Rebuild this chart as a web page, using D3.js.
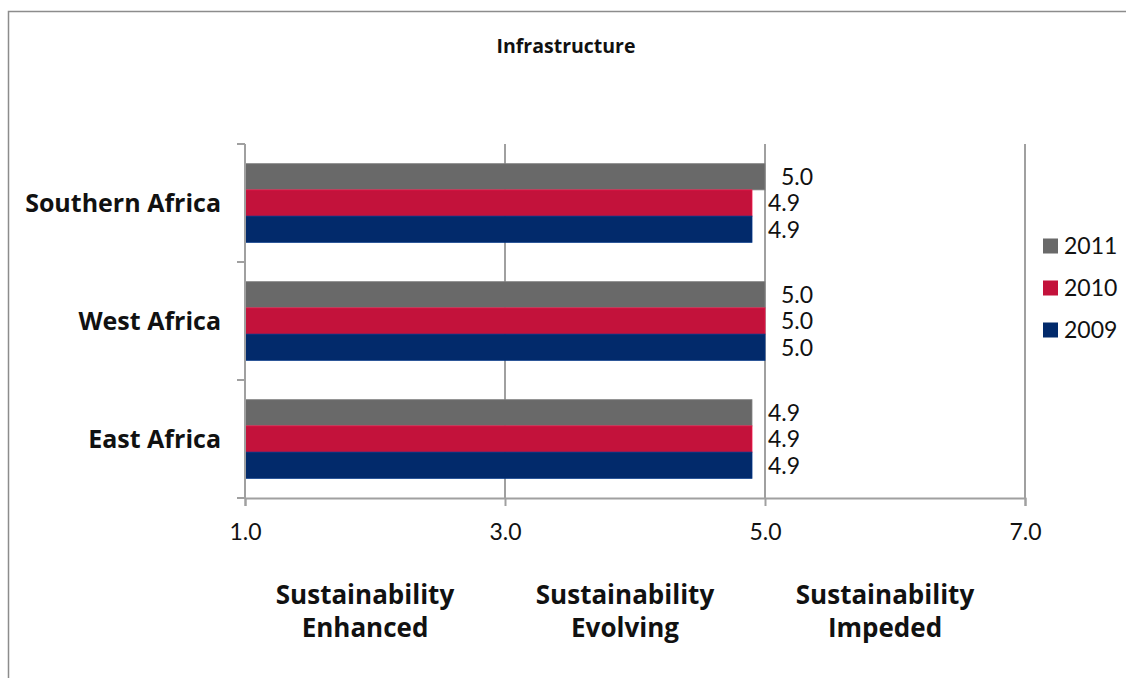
<!DOCTYPE html>
<html>
<head>
<meta charset="utf-8">
<script src="https://cdn.jsdelivr.net/npm/d3@7"></script>
<style>
  html, body { margin: 0; padding: 0; background: #fff; }
  svg { display: block; }
</style>
</head>
<body>
<svg id="chart" width="1126" height="678"></svg>
<script>
// Infrastructure sustainability scores by region and year
const chartTitle = "Infrastructure";
const regions = ["Southern Africa", "West Africa", "East Africa"];
const years = ["2011", "2010", "2009"];
const values2011 = [5.0, 5.0, 4.9];
const values2010 = [4.9, 5.0, 4.9];
const values2009 = [4.9, 5.0, 4.9];
const xTicks = [1.0, 3.0, 5.0, 7.0];
const zoneLabels = [
  ["Sustainability", "Enhanced"],
  ["Sustainability", "Evolving"],
  ["Sustainability", "Impeded"]
];
const seriesColors = { "2011": "#696969", "2010": "#C3123B", "2009": "#022A6B" };

const seriesByYear = { "2011": values2011, "2010": values2010, "2009": values2009 };
const rows = regions.map((r, i) => ({
  region: r,
  bars: years.map(y => ({ year: y, value: seriesByYear[y][i] }))
}));

const svg = d3.select("#chart");
const numFont = "Lato, 'Open Sans', sans-serif";
const boldFont = "'Open Sans', Lato, sans-serif";

// outer chart frame
svg.append("rect")
  .attr("x", 8.5).attr("y", 11.5)
  .attr("width", 1200).attr("height", 800)
  .attr("fill", "none").attr("stroke", "#8c8c8c").attr("stroke-width", 1.5);

const plot = { left: 245, right: 1025, top: 144, bottom: 498 };

const x = d3.scaleLinear().domain([1, 7]).range([plot.left, plot.right]);
const y = d3.scaleBand().domain(regions).range([plot.top, plot.bottom]).paddingInner(0).paddingOuter(0);
const yInner = d3.scaleBand().domain(years).range([0, y.bandwidth()]).paddingInner(0).paddingOuter(0.75);

// title
svg.append("text")
  .attr("x", 566).attr("y", 53)
  .attr("text-anchor", "middle")
  .attr("font-family", boldFont).attr("font-weight", "bold").attr("font-size", 19.5).attr("fill", "#111")
  .text(chartTitle);

// vertical gridlines
svg.append("g").selectAll("line")
  .data(xTicks.slice(1))
  .join("line")
  .attr("x1", d => x(d)).attr("x2", d => x(d))
  .attr("y1", plot.top).attr("y2", plot.bottom)
  .attr("stroke", "#a0a0a0").attr("stroke-width", 2);

// bars
const groups = svg.append("g").selectAll("g")
  .data(rows)
  .join("g")
  .attr("transform", d => `translate(0,${y(d.region)})`);

groups.selectAll("rect")
  .data(d => d.bars)
  .join("rect")
  .attr("x", x(1))
  .attr("y", d => yInner(d.year))
  .attr("width", d => x(d.value) - x(1))
  .attr("height", yInner.bandwidth())
  .attr("fill", d => seriesColors[d.year])
  .attr("stroke", d => d3.color(seriesColors[d.year]).brighter(0.6))
  .attr("stroke-width", 0.8);

// value labels
groups.selectAll("text")
  .data(d => d.bars)
  .join("text")
  .attr("x", d => x(d.value) + 16)
  .attr("y", d => yInner(d.year) + yInner.bandwidth() / 2)
  .attr("dy", "0.36em")
  .attr("font-family", numFont).attr("font-size", 23).attr("fill", "#111")
  .text(d => d3.format(".1f")(d.value));

// bottom axis
const xAxis = d3.axisBottom(x).tickValues(xTicks).tickFormat(d3.format(".1f")).tickSize(8).tickPadding(18);
const gx = svg.append("g").attr("transform", `translate(0,${plot.bottom})`).call(xAxis);
gx.select(".domain").attr("stroke", "#a0a0a0").attr("stroke-width", 2);
gx.selectAll(".tick line").attr("stroke", "#a0a0a0").attr("stroke-width", 2);
gx.selectAll(".tick text").attr("font-family", numFont).attr("font-size", 23).attr("fill", "#111");

// left axis with ticks at category boundaries
const gy = svg.append("g");
gy.append("line")
  .attr("x1", plot.left).attr("x2", plot.left)
  .attr("y1", plot.top).attr("y2", plot.bottom)
  .attr("stroke", "#a0a0a0").attr("stroke-width", 2);
const boundaries = regions.map(r => y(r)).concat([plot.bottom]);
gy.selectAll("line.tick")
  .data(boundaries)
  .join("line").attr("class", "tick")
  .attr("x1", plot.left - 8).attr("x2", plot.left)
  .attr("y1", d => d).attr("y2", d => d)
  .attr("stroke", "#a0a0a0").attr("stroke-width", 2);
gy.selectAll("text")
  .data(regions)
  .join("text")
  .attr("x", 221)
  .attr("y", d => y(d) + y.bandwidth() / 2)
  .attr("dy", "0.36em")
  .attr("text-anchor", "end")
  .attr("font-family", boldFont).attr("font-weight", "bold").attr("font-size", 25).attr("fill", "#111")
  .text(d => d);

// zone labels under the axis
const zoneCenters = [(xTicks[0] + xTicks[1]) / 2, (xTicks[1] + xTicks[2]) / 2, (xTicks[2] + xTicks[3]) / 2];
const zones = svg.append("g").selectAll("text")
  .data(zoneLabels)
  .join("text")
  .attr("x", (d, i) => x(zoneCenters[i]) - 10)
  .attr("y", 604)
  .attr("text-anchor", "middle")
  .attr("font-family", boldFont).attr("font-weight", "bold").attr("font-size", 26).attr("fill", "#111");
zones.selectAll("tspan")
  .data(d => d)
  .join("tspan")
  .attr("x", function () { return d3.select(this.parentNode).attr("x"); })
  .attr("dy", (d, i) => i === 0 ? 0 : 33)
  .text(d => d);

// legend
const legend = svg.append("g").selectAll("g")
  .data(years)
  .join("g")
  .attr("transform", (d, i) => `translate(1043,${246 + i * 42})`);
legend.append("rect")
  .attr("x", 0).attr("y", -7.5).attr("width", 15).attr("height", 15)
  .attr("fill", d => seriesColors[d]);
legend.append("text")
  .attr("x", 21).attr("y", 0).attr("dy", "0.36em")
  .attr("font-family", numFont).attr("font-size", 23).attr("fill", "#111")
  .text(d => d);
</script>
</body>
</html>
